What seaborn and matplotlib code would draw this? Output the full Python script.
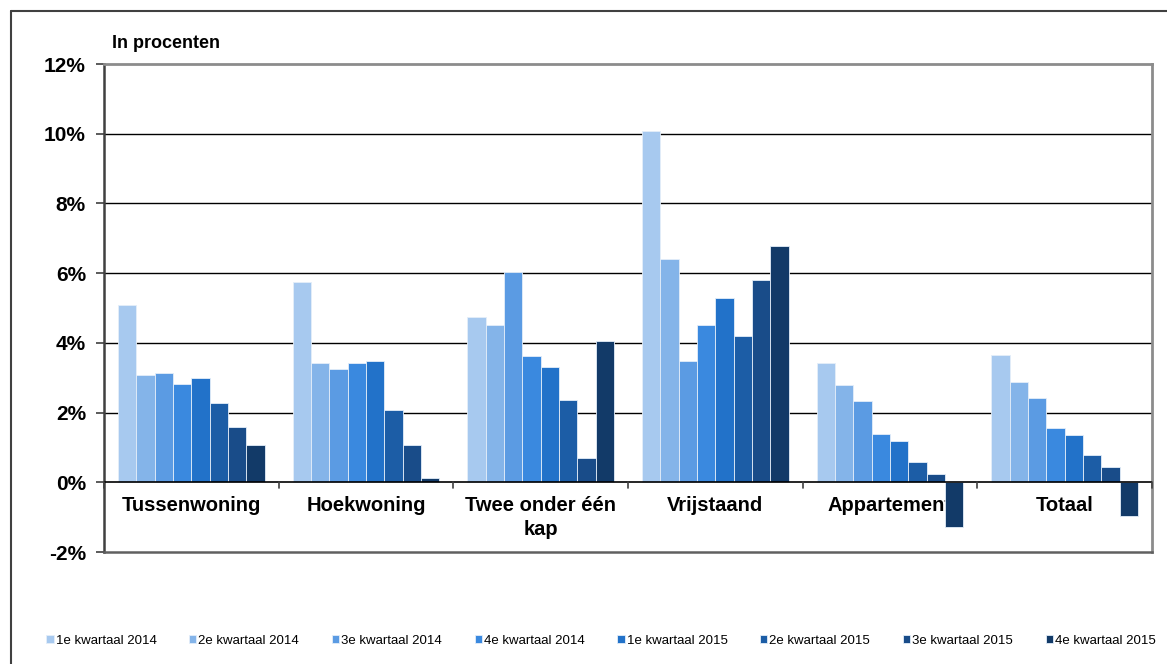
import textwrap

import matplotlib.pyplot as plt
import matplotlib.lines as mlines
import pandas as pd
import seaborn as sns

woningtypes = ["Tussenwoning", "Hoekwoning", "Twee onder één kap",
               "Vrijstaand", "Appartement", "Totaal"]
kwartalen = ["1e kwartaal 2014", "2e kwartaal 2014", "3e kwartaal 2014",
             "4e kwartaal 2014", "1e kwartaal 2015", "2e kwartaal 2015",
             "3e kwartaal 2015", "4e kwartaal 2015"]

# waarden per woningtype, een per kwartaal (in procenten)
tussenwoning = [5.08, 3.09, 3.13, 2.81, 3.00, 2.27, 1.58, 1.08]
hoekwoning = [5.76, 3.41, 3.25, 3.41, 3.47, 2.06, 1.08, 0.11]
twee_onder_een_kap = [4.74, 4.50, 6.02, 3.61, 3.32, 2.37, 0.71, 4.04]
vrijstaand = [10.08, 6.40, 3.47, 4.52, 5.30, 4.19, 5.79, 6.77]
appartement = [3.43, 2.79, 2.33, 1.39, 1.18, 0.59, 0.25, -1.29]
totaal = [3.64, 2.87, 2.43, 1.57, 1.36, 0.79, 0.43, -0.98]

kleuren = ["#A7C9EF", "#84B4E9", "#5B9BE3", "#3A89DF",
           "#2272C9", "#1C5DA6", "#194C89", "#123A68"]

reeksen = [tussenwoning, hoekwoning, twee_onder_een_kap,
           vrijstaand, appartement, totaal]
rijen = []
for woningtype, waarden in zip(woningtypes, reeksen):
    for kwartaal, waarde in zip(kwartalen, waarden):
        rijen.append({"woningtype": woningtype, "kwartaal": kwartaal, "waarde": waarde})
df = pd.DataFrame(rijen)

sns.set_style("white")
plt.rcParams["font.family"] = ["Liberation Sans", "DejaVu Sans"]
plt.rcParams["text.color"] = "black"
plt.rcParams["ytick.labelcolor"] = "black"

fig = plt.figure(figsize=(11.67, 6.64), dpi=100)
ax = fig.add_axes([104 / 1167, 1 - 552 / 664, 1048 / 1167, 488 / 664])

sns.barplot(data=df, x="woningtype", y="waarde", hue="kwartaal",
            order=woningtypes, hue_order=kwartalen, palette=kleuren,
            saturation=1, width=0.84, edgecolor="#e4eef9", linewidth=0.6, ax=ax)

handles, labels = ax.get_legend_handles_labels()
ax.get_legend().remove()

ax.set_xlim(-0.5, len(woningtypes) - 0.5)
ax.set_ylim(-2, 12)
ax.set_yticks(range(-2, 13, 2))
ax.set_yticklabels([f"{t}%" for t in range(-2, 13, 2)],
                   fontsize=15, fontweight="bold", color="black")
ax.tick_params(axis="y", direction="out", length=6, width=1.2,
               color="#404040", pad=7, left=True)
ax.set_xticks([])
ax.set_xlabel("")
ax.set_ylabel("")

# horizontale lijnen
for y in range(2, 12, 2):
    ax.axhline(y, color="black", lw=1, zorder=0)
ax.axhline(0, color="black", lw=1.2, zorder=3)
for i in range(len(woningtypes) + 1):
    ax.plot([i - 0.5, i - 0.5], [0, -0.15], color="#404040", lw=1.2,
            zorder=3, clip_on=False)

for kant in ["top", "right"]:
    ax.spines[kant].set_color("#8c8c8c")
    ax.spines[kant].set_linewidth(2)
ax.spines["left"].set_color("#404040")
ax.spines["left"].set_linewidth(1.8)
ax.spines["bottom"].set_color("#606060")
ax.spines["bottom"].set_linewidth(1.8)

# categorienamen onder de nullijn, achter de balken
for i, naam in enumerate(woningtypes):
    ax.text(i, -0.4, "\n".join(textwrap.wrap(naam, 14)), ha="center",
            va="top", fontsize=14.5, fontweight="bold", linespacing=1.3,
            color="black", zorder=0.5)

fig.text(112 / 1167, 1 - 43 / 664, "In procenten", ha="left", va="center",
         fontsize=13, fontweight="bold", color="black")

fig.legend(handles, labels, loc="center", ncol=8,
           bbox_to_anchor=(601 / 1167, 1 - 641 / 664), frameon=False,
           fontsize=9.5, handlelength=0.55, handleheight=0.55,
           handletextpad=0.15, columnspacing=2.48, labelcolor="black")

# kader om de figuur
fig.add_artist(mlines.Line2D([11 / 1167, 11 / 1167], [0, 1 - 11 / 664],
                             color="#404040", lw=1.5))
fig.add_artist(mlines.Line2D([11 / 1167, 1], [1 - 11 / 664, 1 - 11 / 664],
                             color="#404040", lw=1.5))

fig.savefig("out.png", dpi=100)
